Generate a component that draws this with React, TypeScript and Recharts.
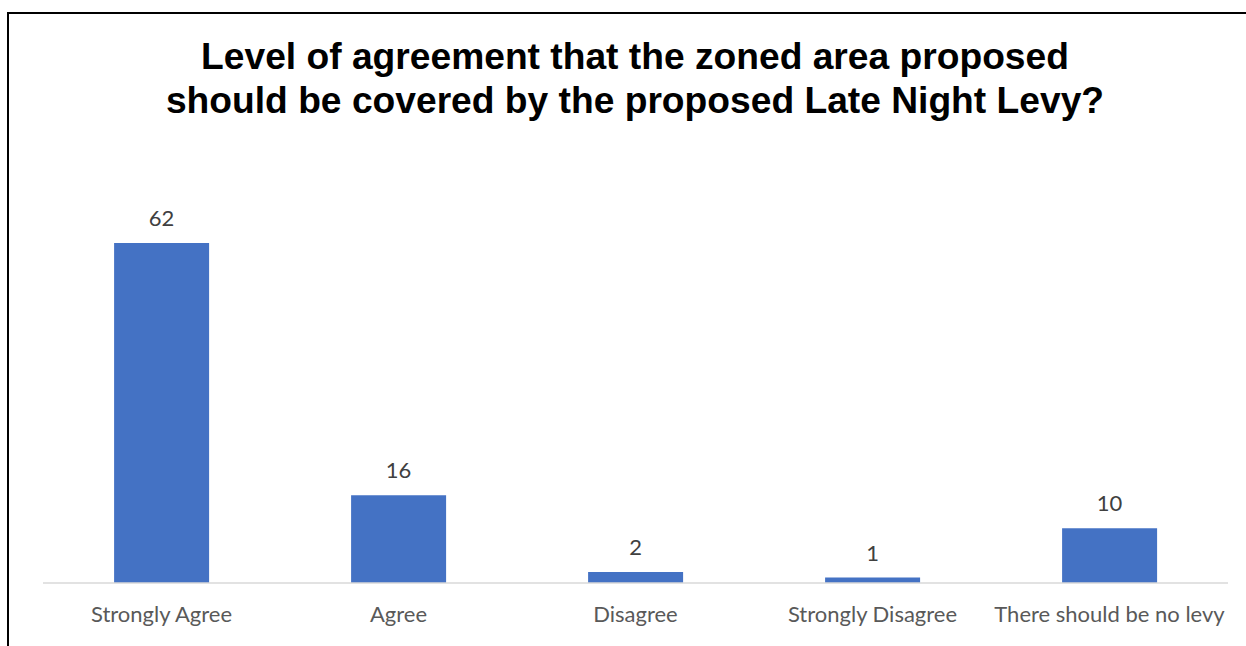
import { Bar, BarChart, LabelList, XAxis, YAxis } from 'recharts';

const categories = [
  'Strongly Agree',
  'Agree',
  'Disagree',
  'Strongly Disagree',
  'There should be no levy',
];
const responses = [62, 16, 2, 1, 10];

const data = categories.map((name, i) => ({ name, value: responses[i] }));

export default function App() {
  return (
    <div
      style={{
        position: 'absolute',
        left: 0,
        top: 0,
        width: 1246,
        height: 646,
        background: '#ffffff',
        overflow: 'hidden',
      }}
    >
      <div
        style={{
          position: 'absolute',
          left: 7,
          top: 12,
          width: 1300,
          height: 700,
          borderLeft: '2px solid #000',
          borderTop: '2px solid #000',
        }}
      />
      <div
        style={{
          position: 'absolute',
          left: 0,
          top: 35,
          width: 1270,
          textAlign: 'center',
          fontFamily: '"Liberation Sans", Arial, sans-serif',
          fontWeight: 'bold',
          fontSize: 37.2,
          lineHeight: '43.5px',
          color: '#000',
          whiteSpace: 'nowrap',
        }}
      >
        Level of agreement that the zoned area proposed
        <br />
        should be covered by the proposed Late Night Levy?
      </div>
      <div style={{ position: 'absolute', left: 0, top: 0 }}>
        <BarChart
          width={1246}
          height={646}
          data={data}
          margin={{ top: 199, right: 18, bottom: 23, left: 43 }}
          barCategoryGap='30%'
        >
          <XAxis
            dataKey='name'
            height={40}
            tickLine={false}
            axisLine={{ stroke: '#d9d9d9', strokeWidth: 1.5 }}
            tickMargin={17}
            interval={0}
            tick={{ fill: '#595959', fontSize: 22, fontFamily: 'Lato, sans-serif' }}
          />
          <YAxis hide domain={[0, 70]} />
          <Bar dataKey='value' fill='#4472c4' isAnimationActive={false}>
            <LabelList
              dataKey='value'
              position='top'
              offset={17}
              fill='#404040'
              fontSize={22}
              fontFamily='Lato, sans-serif'
            />
          </Bar>
        </BarChart>
      </div>
    </div>
  );
}
